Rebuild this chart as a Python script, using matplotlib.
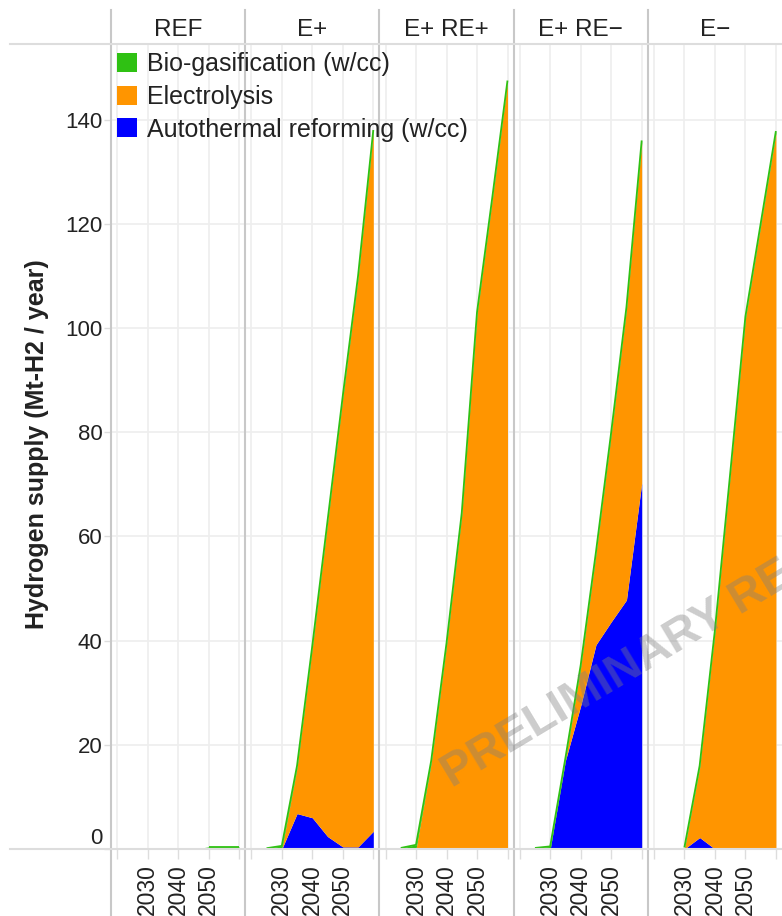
import numpy as np
import matplotlib.pyplot as plt
from matplotlib.patches import Patch
from matplotlib.lines import Line2D

plt.rcParams['font.family'] = ['Liberation Sans', 'DejaVu Sans']

# Data (Mt-H2 / year)
years = [2025, 2030, 2035, 2040, 2045, 2050, 2055, 2060]
scenarios = ['REF', 'E+', 'E+ RE+', 'E+ RE\u2212', 'E\u2212']

bio_gas = {
    'REF':        [0, 0, 0, 0, 0, 0.4, 0.4, 0.4],
    'E+':         [0.15, 0.6, 0.4, 0.4, 0.4, 0.4, 0.4, 0.4],
    'E+ RE+':     [0.2, 0.8, 0.4, 0.4, 0.4, 0.4, 0.4, 0.4],
    'E+ RE\u2212': [0.2, 0.5, 0.4, 0.4, 0.4, 0.4, 0.4, 0.4],
    'E\u2212':     [0, 0.3, 0.4, 0.4, 0.4, 0.4, 0.4, 0.4],
}
electrolysis = {
    'REF':        [0, 0, 0, 0, 0, 0, 0, 0],
    'E+':         [0, 0, 8.8, 32.6, 60.2, 86.2, 109.2, 134.2],
    'E+ RE+':     [0, 0, 16.6, 39.1, 64.1, 102.6, 124.6, 147.1],
    'E+ RE\u2212': [0, 0, 0.1, 7.4, 17.4, 36.0, 55.8, 65.4],
    'E\u2212':     [0, 0, 13.4, 41.6, 71.6, 101.8, 119.6, 137.1],
}
autothermal = {
    'REF':        [0, 0, 0, 0, 0, 0, 0, 0],
    'E+':         [0, 0, 6.8, 6.0, 2.4, 0.4, 0.4, 3.4],
    'E+ RE+':     [0, 0, 0, 0, 0, 0, 0, 0],
    'E+ RE\u2212': [0, 0, 17.0, 27.5, 39.2, 43.6, 47.8, 70.2],
    'E\u2212':     [0, 0, 2.2, 0, 0, 0, 0, 0.3],
}

c_bio = '#2fc113'
c_ele = '#ff9500'
c_atr = '#0000ff'
grid_c = '#eeeeee'
sep_c = '#c8c8c8'
txt_c = '#222222'

W, H = 782, 916
fig = plt.figure(figsize=(W / 100, H / 100), dpi=100)

x0, pw = 111, (782 - 111) / 5
top_px, base_px = 44, 849
ymax = (base_px - top_px) / 5.21

axes = []
for i, sc in enumerate(scenarios):
    ax = fig.add_axes([(x0 + i * pw) / W, (H - base_px) / H, pw / W, (base_px - top_px) / H])
    axes.append(ax)
    yr = np.array(years)
    a = np.array(autothermal[sc])
    e = np.array(electrolysis[sc])
    b = np.array(bio_gas[sc])
    ax.fill_between(yr, 0, a, color=c_atr, lw=0, zorder=3)
    ax.fill_between(yr, a, a + e, color=c_ele, lw=0, zorder=3)
    ax.fill_between(yr, a + e, a + e + b, color=c_bio, lw=0, zorder=3)
    top = np.where(b > 0, a + e + b, np.nan)
    ax.plot(yr, top, color=c_bio, lw=1.3, zorder=4, solid_capstyle='butt')

    ax.set_xlim(2018, 2062)
    ax.set_ylim(0, ymax)
    ax.set_xticks([2020, 2030, 2040, 2050, 2060])
    ax.set_xticklabels(['', '2030', '2040', '2050', ''], rotation=90, fontsize=16.5, color=txt_c)
    ax.set_yticks(range(0, 141, 20))
    ax.grid(True, color=grid_c, lw=1.2, zorder=0)
    ax.tick_params(axis='x', length=7, width=1, color='#dddddd', pad=4)
    for s in ax.spines.values():
        s.set_visible(False)
    if i == 0:
        ax.tick_params(axis='y', length=5, width=1, color='#dddddd', pad=1,
                       labelsize=16, labelcolor=txt_c)
        ax.get_yticklabels()[0].set_va('bottom')
    else:
        ax.tick_params(axis='y', left=False, labelleft=False)
    ax.text(0.5, 1 + 17 / (base_px - top_px), sc, transform=ax.transAxes,
            ha='center', va='center_baseline', fontsize=17.5, color=txt_c)

# frame lines of the facet grid
for i in range(5):
    xx = (x0 + i * pw) / W
    fig.add_artist(Line2D([xx, xx], [0, 1 - 10 / H], color=sep_c, lw=1.5))
for yy in (top_px, base_px):
    fig.add_artist(Line2D([10 / W, 1], [1 - yy / H, 1 - yy / H], color='#dddddd', lw=1.5))

fig.text(37 / W, 1 - 444 / H, 'Hydrogen supply (Mt-H2 / year)', rotation=90,
         ha='center', va='center', fontsize=18, fontweight='bold', color=txt_c)

handles = [Patch(facecolor=c_bio, label='Bio-gasification (w/cc)'),
           Patch(facecolor=c_ele, label='Electrolysis'),
           Patch(facecolor=c_atr, label='Autothermal reforming (w/cc)')]
leg = fig.legend(handles=handles, loc='upper left', bbox_to_anchor=(117 / W, 1 - 52 / H),
                 frameon=False, fontsize=18, handlelength=0.8, handleheight=0.8,
                 handletextpad=0.4, labelspacing=0.35, borderpad=0, borderaxespad=0)
for t in leg.get_texts():
    t.set_color(txt_c)
leg.set_zorder(10)

fig.text(452 / W, 1 - 788 / H, 'PRELIMINARY RESULTS', rotation=31, rotation_mode='anchor',
         ha='left', va='baseline', fontsize=34, fontweight='bold', color='#808080',
         alpha=0.4, zorder=20)

fig.savefig('out.png', dpi=100)
